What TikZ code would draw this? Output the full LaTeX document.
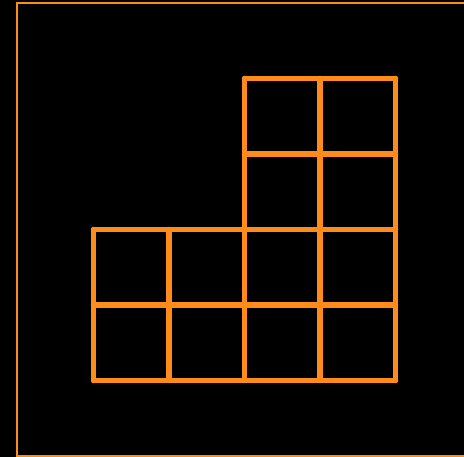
\documentclass[tikz,border=0pt]{standalone}
\definecolor{gridorange}{RGB}{255,140,26}
\tikzset{
  frameline/.style={draw=gridorange, line width=2pt},
  gridline/.style={draw=gridorange, line width=5.5pt, line cap=round, line join=round}
}
\begin{document}
\begin{tikzpicture}[x=1pt,y=-1pt]
\useasboundingbox (0,0) rectangle (464,457);
\clip (0,0) rectangle (464,457);
\fill[black] (0,0) rectangle (464,457);
\draw[frameline] (16.8,3.5) rectangle (467,456.3);
% horizontal lines
\draw[gridline] (93.5,380.5) -- (395.5,380.5);
\draw[gridline] (93.5,305) -- (395.5,305);
\draw[gridline] (93.5,229.5) -- (395.5,229.5);
\draw[gridline] (244.5,154) -- (395.5,154);
\draw[gridline] (244.5,78.5) -- (395.5,78.5);
% vertical lines
\draw[gridline] (93.5,229.5) -- (93.5,380.5);
\draw[gridline] (169,229.5) -- (169,380.5);
\draw[gridline] (244.5,78.5) -- (244.5,380.5);
\draw[gridline] (320,78.5) -- (320,380.5);
\draw[gridline] (395.5,78.5) -- (395.5,380.5);
\end{tikzpicture}
\end{document}
